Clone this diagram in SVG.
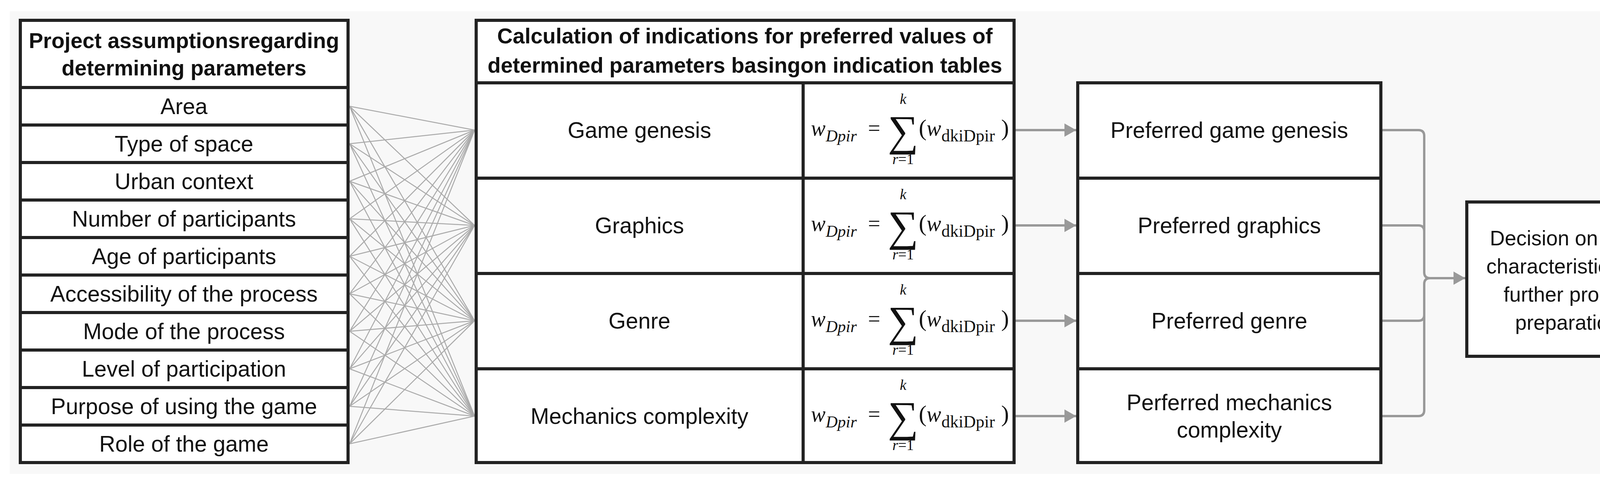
<svg xmlns="http://www.w3.org/2000/svg" width="4353" height="1244" viewBox="0 0 4353 1244">
<style>
.box{fill:#fff;stroke:#222;stroke-width:8}
.t{font-family:"Liberation Sans",Arial,sans-serif;font-size:57px;fill:#111;text-anchor:middle}
.d{font-family:"Liberation Sans",Arial,sans-serif;font-size:53px;fill:#111;text-anchor:middle}
.h{font-family:"Liberation Sans",Arial,sans-serif;font-size:55px;font-weight:bold;fill:#111;text-anchor:middle}
.m{font-family:"Liberation Serif","DejaVu Serif",serif;fill:#111}
.fan line{stroke:#aaa;stroke-width:2.5}
.arr{stroke:#999;stroke-width:6;fill:none}
</style>
<defs>
<marker id="ah" markerUnits="userSpaceOnUse" markerWidth="34" markerHeight="34" refX="30" refY="17" orient="auto"><path d="M0,0 L30,17 L0,34 Z" fill="#999"/></marker>
<g id="formula">
<text class="m" x="2076" y="347" font-size="56" font-style="italic">w</text>
<text class="m" x="2114" y="362" font-size="42" font-style="italic">Dpir</text>
<text class="m" x="2222" y="347" font-size="56">=</text>
<text class="m" x="2312" y="372" font-size="110" text-anchor="middle">∑</text>
<text class="m" x="2312" y="266" font-size="38" font-style="italic" text-anchor="middle">k</text>
<text class="m" x="2312" y="420" font-size="38" text-anchor="middle"><tspan font-style="italic">r</tspan>=1</text>
<text class="m" x="2352" y="347" font-size="60">(</text>
<text class="m" x="2372" y="347" font-size="56" font-style="italic">w</text>
<text class="m" x="2410" y="362" font-size="44">dkiDpir</text>
<text class="m" x="2563" y="347" font-size="60">)</text>
</g>
</defs>
<rect x="25" y="29" width="4296" height="1184" fill="#f8f8f8"/>
<g class="fan" id="connectors-fan">
<line x1="895" y1="272" x2="1215" y2="333"/><line x1="895" y1="272" x2="1215" y2="577"/><line x1="895" y1="272" x2="1215" y2="821"/><line x1="895" y1="272" x2="1215" y2="1065"/>
<line x1="895" y1="368" x2="1215" y2="333"/><line x1="895" y1="368" x2="1215" y2="577"/><line x1="895" y1="368" x2="1215" y2="821"/><line x1="895" y1="368" x2="1215" y2="1065"/>
<line x1="895" y1="464" x2="1215" y2="333"/><line x1="895" y1="464" x2="1215" y2="577"/><line x1="895" y1="464" x2="1215" y2="821"/><line x1="895" y1="464" x2="1215" y2="1065"/>
<line x1="895" y1="560" x2="1215" y2="333"/><line x1="895" y1="560" x2="1215" y2="577"/><line x1="895" y1="560" x2="1215" y2="821"/><line x1="895" y1="560" x2="1215" y2="1065"/>
<line x1="895" y1="656" x2="1215" y2="333"/><line x1="895" y1="656" x2="1215" y2="577"/><line x1="895" y1="656" x2="1215" y2="821"/><line x1="895" y1="656" x2="1215" y2="1065"/>
<line x1="895" y1="752" x2="1215" y2="333"/><line x1="895" y1="752" x2="1215" y2="577"/><line x1="895" y1="752" x2="1215" y2="821"/><line x1="895" y1="752" x2="1215" y2="1065"/>
<line x1="895" y1="848" x2="1215" y2="333"/><line x1="895" y1="848" x2="1215" y2="577"/><line x1="895" y1="848" x2="1215" y2="821"/><line x1="895" y1="848" x2="1215" y2="1065"/>
<line x1="895" y1="944" x2="1215" y2="333"/><line x1="895" y1="944" x2="1215" y2="577"/><line x1="895" y1="944" x2="1215" y2="821"/><line x1="895" y1="944" x2="1215" y2="1065"/>
<line x1="895" y1="1040" x2="1215" y2="333"/><line x1="895" y1="1040" x2="1215" y2="577"/><line x1="895" y1="1040" x2="1215" y2="821"/><line x1="895" y1="1040" x2="1215" y2="1065"/>
<line x1="895" y1="1136" x2="1215" y2="333"/><line x1="895" y1="1136" x2="1215" y2="577"/><line x1="895" y1="1136" x2="1215" y2="821"/><line x1="895" y1="1136" x2="1215" y2="1065"/>
</g>
<g id="left-table">
<rect class="box" x="52" y="52" width="839" height="172"/>
<text class="h" x="471" y="123">Project assumptionsregarding</text>
<text class="h" x="471" y="193">determining parameters</text>
<rect class="box" x="52" y="224" width="839" height="96"/><text class="t" x="471" y="292">Area</text>
<rect class="box" x="52" y="320" width="839" height="96"/><text class="t" x="471" y="388">Type of space</text>
<rect class="box" x="52" y="416" width="839" height="96"/><text class="t" x="471" y="484">Urban context</text>
<rect class="box" x="52" y="512" width="839" height="96"/><text class="t" x="471" y="580">Number of participants</text>
<rect class="box" x="52" y="608" width="839" height="96"/><text class="t" x="471" y="676">Age of participants</text>
<rect class="box" x="52" y="704" width="839" height="96"/><text class="t" x="471" y="772">Accessibility of the process</text>
<rect class="box" x="52" y="800" width="839" height="96"/><text class="t" x="471" y="868">Mode of the process</text>
<rect class="box" x="52" y="896" width="839" height="96"/><text class="t" x="471" y="964">Level of participation</text>
<rect class="box" x="52" y="992" width="839" height="96"/><text class="t" x="471" y="1060">Purpose of using the game</text>
<rect class="box" x="52" y="1088" width="839" height="96"/><text class="t" x="471" y="1156">Role of the game</text>
</g>
<g id="middle-table">
<rect class="box" x="1219" y="52" width="1377" height="160"/>
<text class="h" x="1907" y="111">Calculation of indications for preferred values of</text>
<text class="h" x="1907" y="186">determined parameters basingon indication tables</text>
<rect class="box" x="1219" y="212" width="1377" height="972"/>
<line x1="2056" y1="212" x2="2056" y2="1184" stroke="#222" stroke-width="8"/>
<line x1="1219" y1="456" x2="2596" y2="456" stroke="#222" stroke-width="8"/>
<line x1="1219" y1="700" x2="2596" y2="700" stroke="#222" stroke-width="8"/>
<line x1="1219" y1="944" x2="2596" y2="944" stroke="#222" stroke-width="8"/>
<text class="t" x="1637" y="353">Game genesis</text>
<text class="t" x="1637" y="597">Graphics</text>
<text class="t" x="1637" y="841">Genre</text>
<text class="t" x="1637" y="1085">Mechanics complexity</text>
<use href="#formula"/>
<use href="#formula" transform="translate(0,244)"/>
<use href="#formula" transform="translate(0,488)"/>
<use href="#formula" transform="translate(0,732)"/>
</g>
<g id="preferred">
<rect class="box" x="2759" y="212" width="776" height="972"/>
<line x1="2759" y1="456" x2="3535" y2="456" stroke="#222" stroke-width="8"/>
<line x1="2759" y1="700" x2="3535" y2="700" stroke="#222" stroke-width="8"/>
<line x1="2759" y1="944" x2="3535" y2="944" stroke="#222" stroke-width="8"/>
<text class="t" x="3147" y="353">Preferred  game genesis</text>
<text class="t" x="3147" y="597">Preferred graphics</text>
<text class="t" x="3147" y="841">Preferred genre</text>
<text class="t" x="3147" y="1050">Perferred mechanics</text>
<text class="t" x="3147" y="1120">complexity</text>
</g>
<g id="decision">
<rect class="box" x="3755" y="517" width="542" height="395"/>
<text class="d" x="4026" y="628">Decision on game</text>
<text class="d" x="4026" y="700">characteristics and</text>
<text class="d" x="4026" y="772">further  process</text>
<text class="d" x="4026" y="844">preparations</text>
</g>
<g id="connectors">
<line class="arr" x1="2600" y1="333" x2="2755" y2="333" marker-end="url(#ah)"/>
<line class="arr" x1="2600" y1="577" x2="2755" y2="577" marker-end="url(#ah)"/>
<line class="arr" x1="2600" y1="821" x2="2755" y2="821" marker-end="url(#ah)"/>
<line class="arr" x1="2600" y1="1065" x2="2755" y2="1065" marker-end="url(#ah)"/>
<path class="arr" d="M3539,333 H3631 Q3646,333 3646,348 V697 Q3646,712 3661,712"/>
<path class="arr" d="M3539,577 H3631 Q3646,577 3646,592"/>
<path class="arr" d="M3539,821 H3631 Q3646,821 3646,806"/>
<path class="arr" d="M3539,1065 H3631 Q3646,1065 3646,1050 V727 Q3646,712 3661,712"/>
<line class="arr" x1="3658" y1="712" x2="3751" y2="712" marker-end="url(#ah)"/>
</g>
</svg>
